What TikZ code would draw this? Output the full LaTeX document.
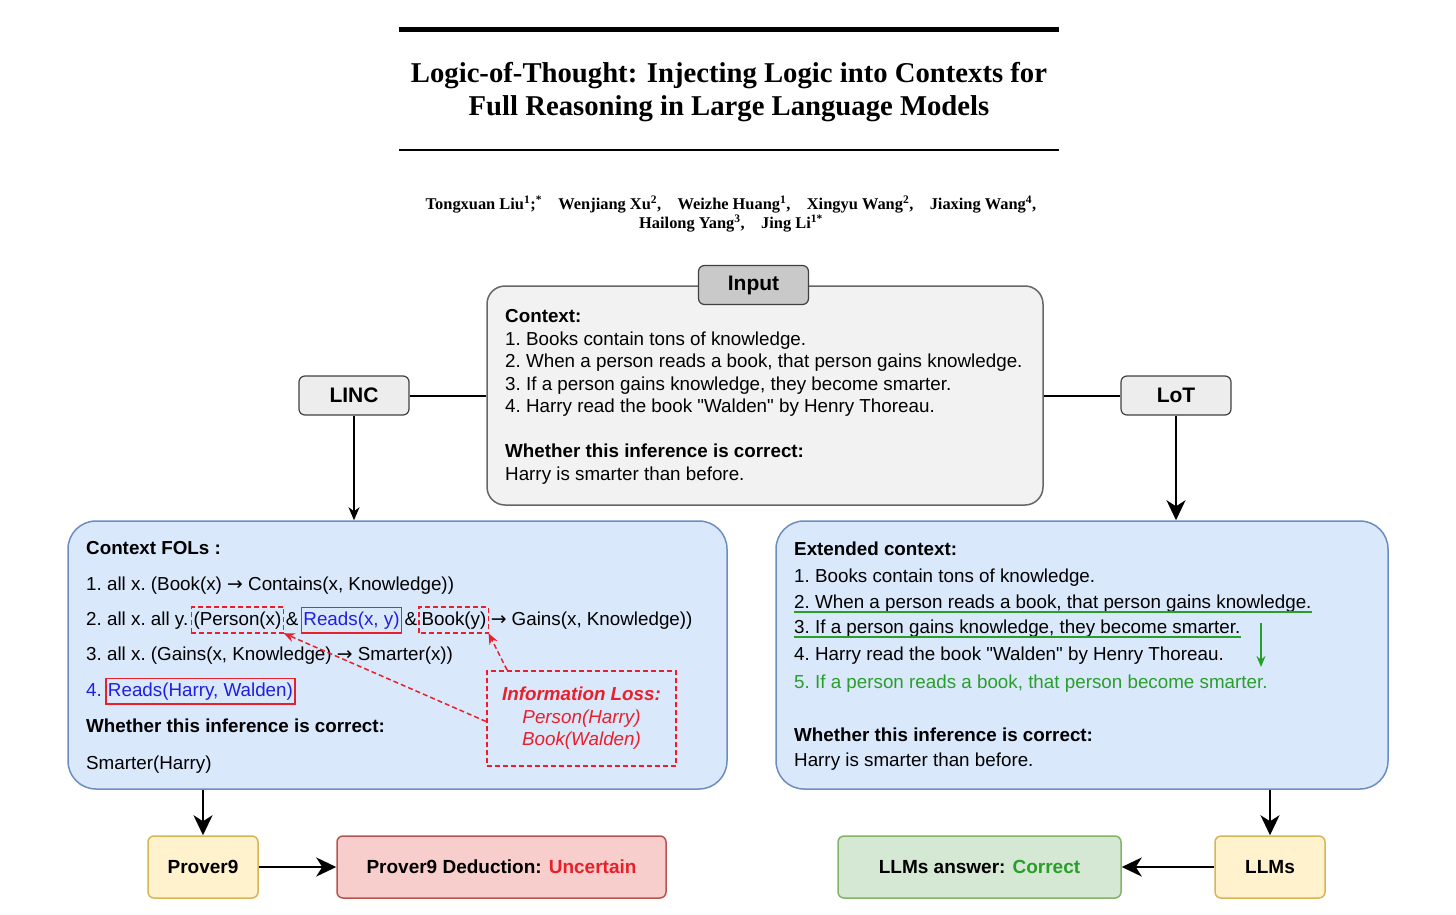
\documentclass[tikz,border=0pt]{standalone}
\usepackage{fontspec}
\setmainfont{Liberation Serif}
\setsansfont{Liberation Sans}
\newfontfamily\arrowfont{DejaVu Sans}
\usepackage{xcolor}
\usetikzlibrary{positioning,arrows.meta,calc}

\definecolor{boxblue}{HTML}{DAE8FC}
\definecolor{lineblue}{HTML}{6C8EBF}
\definecolor{boxyellow}{HTML}{FFF2CC}
\definecolor{lineyellow}{HTML}{D6B656}
\definecolor{boxred}{HTML}{F8CECC}
\definecolor{linered}{HTML}{B85450}
\definecolor{boxgreen}{HTML}{D5E8D4}
\definecolor{linegreen}{HTML}{82B366}
\definecolor{boxgray}{HTML}{F2F2F2}
\definecolor{labgray}{HTML}{C9C9C9}
\definecolor{lossred}{HTML}{E8202B}
\definecolor{folblue}{HTML}{1F1FE0}
\definecolor{okgreen}{HTML}{2A9E2A}

\newcommand{\txtfont}{\fontsize{18.8}{22.5}\selectfont\sffamily\frenchspacing}
\newcommand{\labfont}{\fontsize{21}{25}\selectfont\sffamily\bfseries}
\newcommand{\resfont}{\fontsize{19}{23}\selectfont\sffamily\bfseries}
\newcommand{\impl}{{\arrowfont →}}
\newcommand{\dq}{\textquotedbl}

\begin{document}
\begin{tikzpicture}[x=1pt, y=-1pt,
    txt/.style={font=\txtfont, inner sep=0pt},
    tag/.style={rectangle, rounded corners=6pt, draw=black!75, line width=1.2pt, fill=black!7, minimum width=110pt, minimum height=39pt, font=\labfont},
    panel/.style={rectangle, rounded corners=28pt, draw=lineblue, line width=1.5pt, fill=boxblue, minimum width=#1, minimum height=268pt},
    result/.style={rectangle, rounded corners=6pt, line width=1.5pt, minimum height=62pt, font=\resfont},
    lossdash/.style={draw=lossred, dash pattern=on 5pt off 3pt, line width=1.8pt},
    wordbox/.style={rectangle, inner xsep=2pt, text height=14pt, text depth=4.5pt, inner ysep=3.5pt},
    markbox/.style={wordbox, draw=lossred, line width=1.8pt, text=folblue},
    link/.style={line width=2pt, -{Stealth[length=20pt,width=19pt,inset=6pt]}}
]
    \useasboundingbox (0,0) rectangle (1456,915);

    % Header
    \draw[line width=5pt] (399,30) -- (1059,30);
    \node[font=\fontsize{28.7}{33}\selectfont\bfseries, align=center] (title) at (729,92)
        {Logic-of-Thought: Injecting Logic into Contexts for\\Full Reasoning in Large Language Models};
    \draw[line width=1.6pt] (399,150) -- (1059,150);
    \node[font=\fontsize{16.4}{19}\selectfont\bfseries, align=center] (authors) at (731,214)
        {Tongxuan Liu\textsuperscript{1};\textsuperscript{*}\hspace{1em}Wenjiang Xu\textsuperscript{2},\hspace{1em}Weizhe Huang\textsuperscript{1},\hspace{1em}Xingyu Wang\textsuperscript{2},\hspace{1em}Jiaxing Wang\textsuperscript{4},\\Hailong Yang\textsuperscript{3},\hspace{1em}Jing Li\textsuperscript{1*}};

    % Input
    \node[rectangle, rounded corners=18pt, draw=black!60, line width=1.5pt, fill=boxgray, minimum width=556pt, minimum height=219pt] (input) at (765,395.5) {};
    \node[tag, fill=labgray] (inlab) at (753.5,285) {Input};
    \node[txt, align=left, anchor=north west] (intext) at (505,309.5)
        {\textbf{Context:}\\
         1. Books contain tons of knowledge.\\
         2. When a person reads a book, that person gains knowledge.\\
         3. If a person gains knowledge, they become smarter.\\
         4. Harry read the book \dq Walden\dq{} by Henry Thoreau.\\[22.5pt]
         \textbf{Whether this inference is correct:}\\
         Harry is smarter than before.};

    % Methods
    \node[tag] (linc) at (354,395.5) {LINC};
    \node[tag] (lot) at (1176,395.5) {LoT};

    % Panels
    \node[panel=659pt] (fols) at (397.5,655) {};
    \node[panel=612pt] (extctx) at (1082,655) {};

    % Context FOLs
    \node[txt, anchor=base west] (fol0) at (86,554) {\textbf{Context FOLs :}};
    \node[txt, anchor=base west] (fol1) at (86,590) {1. all x. (Book(x) \impl{} Contains(x, Knowledge))};
    \node[txt, anchor=base west] (fol2) at (86,625) {2. all x. all y.};
    \node[txt, wordbox, anchor=base west] (person) at ([xshift=3pt]fol2.base east) {(Person(x)};
    \node[txt, anchor=base west] (amp1) at ([xshift=2pt]person.base east) {\&};
    \node[txt, markbox, anchor=base west] (reads) at ([xshift=2pt]amp1.base east) {Reads(x, y)};
    \node[txt, anchor=base west] (amp2) at ([xshift=2pt]reads.base east) {\&};
    \node[txt, wordbox, anchor=base west] (book) at ([xshift=2pt]amp2.base east) {Book(y)};
    \node[txt, anchor=base west] (gains) at ([xshift=2pt]book.base east) {\impl{} Gains(x, Knowledge))};
    \node[txt, anchor=base west] (fol3) at (86,660) {3. all x. (Gains(x, Knowledge) \impl{} Smarter(x))};
    \node[txt, anchor=base west, text=folblue] (fol4) at (86,696) {4.};
    \node[txt, markbox, anchor=base west] (harry) at ([xshift=3pt]fol4.base east) {Reads(Harry, Walden)};
    \node[txt, anchor=base west] (fol5) at (86,732) {\textbf{Whether this inference is correct:}};
    \node[txt, anchor=base west] (fol6) at (86,769) {Smarter(Harry)};
    \draw[lossdash] (person.south west) rectangle (person.north east);
    \draw[lossdash] (book.south west) rectangle (book.north east);

    % Information loss
    \node[rectangle, lossdash, minimum width=189pt, minimum height=95pt, align=center, text=lossred, font=\txtfont\itshape] (loss) at (581.5,718.5)
        {\textbf{Information Loss:}\\Person(Harry)\\Book(Walden)};
    \draw[lossdash, lossred, line width=1.5pt, -{Stealth[length=11pt,width=9pt]}] ($(loss.west)+(0,3)$) -- (person.south east);
    \draw[lossdash, lossred, line width=1.5pt, -{Stealth[length=11pt,width=9pt]}] ([xshift=21pt]loss.north west) -- (book.south east);

    % Extended context
    \node[txt, anchor=base west] (ext0) at (794,555) {\textbf{Extended context:}};
    \node[txt, anchor=base west] (ext1) at (794,582) {1. Books contain tons of knowledge.};
    \node[txt, anchor=base west] (ext2) at (794,608) {2. When a person reads a book, that person gains knowledge.};
    \node[txt, anchor=base west] (ext3) at (794,633) {3. If a person gains knowledge, they become smarter.};
    \node[txt, anchor=base west] (ext4) at (794,660) {4. Harry read the book \dq Walden\dq{} by Henry Thoreau.};
    \node[txt, anchor=base west, text=okgreen] (ext5) at (794,688) {5. If a person reads a book, that person become smarter.};
    \node[txt, anchor=base west] (ext6) at (794,741) {\textbf{Whether this inference is correct:}};
    \node[txt, anchor=base west] (ext7) at (794,766) {Harry is smarter than before.};
    \draw[okgreen, line width=1.5pt] ([yshift=-4pt]ext2.base west) -- ([yshift=-4pt]ext2.base east);
    \draw[okgreen, line width=1.5pt] ([yshift=-4pt]ext3.base west) -- ([yshift=-4pt]ext3.base east);
    \coordinate (derive) at (1261,623);
    \coordinate (derived) at (1261,667);
    \draw[okgreen, line width=1.5pt, -{Stealth[length=11pt,width=9pt]}] (derive) -- (derived);

    % Results
    \node[result, fill=boxyellow, draw=lineyellow, minimum width=110pt] (prover) at (203,867) {Prover9};
    \node[result, fill=boxred, draw=linered, minimum width=329pt] (deduct) at (501.5,867) {Prover9 Deduction: \textcolor{lossred}{Uncertain}};
    \node[result, fill=boxyellow, draw=lineyellow, minimum width=110pt] (llms) at (1270,867) {LLMs};
    \node[result, fill=boxgreen, draw=linegreen, minimum width=283pt] (answer) at (979.5,867) {LLMs answer: \textcolor{okgreen}{Correct}};

    % Arrows
    \draw[line width=2pt] (linc) -- (input);
    \draw[line width=2pt] (input) -- (lot);
    \draw[line width=1.2pt, -{Stealth[length=13pt,width=11pt,inset=4pt]}] (linc.south) -- (linc.south |- fols.north);
    \draw[link] (lot.south) -- (lot.south |- extctx.north);
    \draw[link] (fols.south -| prover) -- (prover.north);
    \draw[link] (prover) -- (deduct);
    \draw[link] (extctx.south -| llms) -- (llms.north);
    \draw[link] (llms) -- (answer);
\end{tikzpicture}
\end{document}
